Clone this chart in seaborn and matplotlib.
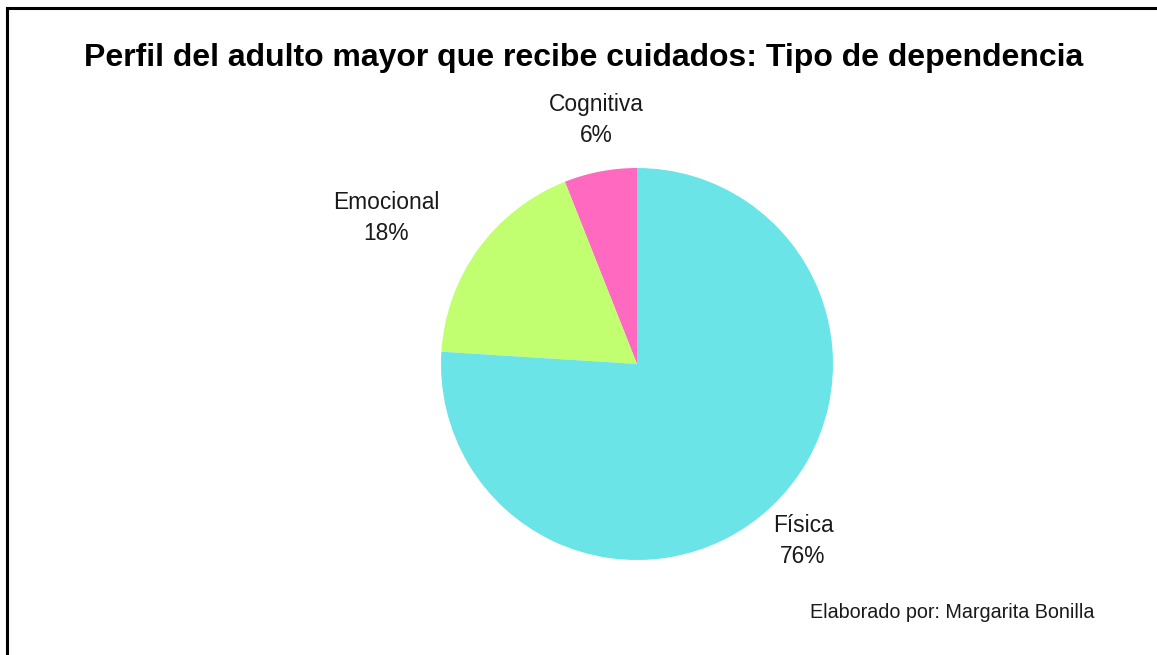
import matplotlib
matplotlib.use("Agg")
import matplotlib.pyplot as plt
import seaborn as sns
from matplotlib.patches import Rectangle

# Dependency types of older adults receiving care (share of total, %)
categorias = ["Cognitiva", "Emocional", "Física"]
porcentajes = [6, 18, 76]
colores = ["#FF69C0", "#C1FF71", "#6BE4E8"]

titulo = "Perfil del adulto mayor que recibe cuidados: Tipo de dependencia"
autoria = "Elaborado por: Margarita Bonilla"

sns.set_theme(style="white")
plt.rcParams["font.family"] = ["Liberation Sans", "DejaVu Sans"]

W, H = 1157, 655
fig = plt.figure(figsize=(W / 100, H / 100), dpi=100)
fig.patch.set_facecolor("white")

def fx(px):
    return px / W

def fy(py):
    return 1 - py / H

# Frame line on the left and top edges
fig.patches.append(Rectangle((fx(6.5), fy(700)), 1.2, fy(7.5) - fy(700),
                             transform=fig.transFigure, fill=False,
                             edgecolor="black", linewidth=2.2, zorder=10))

# Pie axes: centre (637, 364), radius 196 px
cx, cy, r = 637, 364, 196
ax = fig.add_axes([fx(cx - r), fy(cy + r), 2 * r / W, 2 * r / H])
palette = sns.color_palette(colores)
ax.pie(porcentajes, colors=palette, startangle=90, counterclock=True,
       wedgeprops=dict(linewidth=0), radius=1)
ax.set_xlim(-1, 1)
ax.set_ylim(-1, 1)
ax.set_aspect("equal")
ax.axis("off")

# Category labels with their percentages
posiciones = {"Cognitiva": (596, 120), "Emocional": (386, 218), "Física": (803, 541)}
for cat, val in zip(categorias, porcentajes):
    x, y = posiciones[cat]
    fig.text(fx(x), fy(y), f"{cat}\n{val}%", ha="center", va="center",
             fontsize=16.4, color="#1a1a1a", linespacing=1.4)

fig.text(fx(584), fy(58), titulo, ha="center", va="center",
         fontsize=23, fontweight="bold", color="black")
fig.text(fx(952), fy(612), autoria, ha="center", va="center",
         fontsize=14.2, color="#1a1a1a")

fig.savefig("out.png", dpi=100, facecolor="white")
